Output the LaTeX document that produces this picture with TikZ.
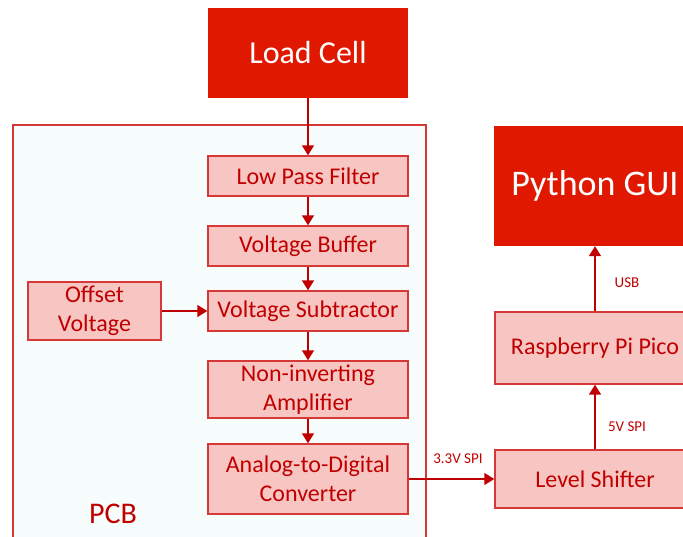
\documentclass[tikz,border=0pt]{standalone}
\usepackage{fontspec}
\setmainfont{Carlito}
\usepackage{xcolor}
\usepackage{tikz}
\usetikzlibrary{arrows.meta,positioning}

\definecolor{cellred}{RGB}{224,24,0}
\definecolor{blockfill}{RGB}{248,198,194}
\definecolor{linered}{RGB}{192,0,0}
\definecolor{boxline}{RGB}{214,56,56}
\definecolor{pcbfill}{RGB}{247,253,253}

\begin{document}
\begin{tikzpicture}[x=1pt, y=-1pt,
    top/.style={
        rectangle, fill=cellred, draw=none,
        text=white, inner sep=0pt,
        font=\fontsize{32}{38}\selectfont
    },
    block/.style={
        rectangle, draw=boxline, line width=1.4pt,
        fill=blockfill, text=linered, align=center,
        inner sep=0pt, minimum width=200pt,
        font=\fontsize{24}{29}\selectfont
    },
    board/.style={
        rectangle, draw=boxline, line width=1.2pt,
        fill=pcbfill, inner sep=0pt
    },
    arrow/.style={-{Triangle[length=10pt, width=12pt]}, line width=1.5pt, linered},
    tag/.style={text=linered, inner sep=0pt, font=\fontsize{15}{18}\selectfont}
]
\useasboundingbox (0,0) rectangle (683,537);
\clip (0,0) rectangle (683,537);

% PCB frame
\node[board, minimum width=413pt, minimum height=440pt] (pcb) at (219.5,345) {};
\node[text=linered, font=\fontsize{30}{36}\selectfont] (pcblabel) at (113,514) {PCB};

% Top: sensor
\node[top, minimum width=200pt, minimum height=90pt] (cell) at (308,53) {Load Cell};

% Signal chain on the board
\node[block, minimum height=40pt] (lpf) at (308,176) {Low Pass Filter};
\node[block, minimum height=40pt] (buffer) at (308,246) {Voltage Buffer};
\node[block, minimum height=40pt] (sub) at (308,311) {Voltage Subtractor};
\node[block, minimum width=133pt, minimum height=58pt] (offset) at (94.5,311) {Offset\\Voltage};
\node[block, minimum height=57pt] (amp) at (308,389.5) {Non-inverting\\Amplifier};
\node[block, minimum height=70pt] (adc) at (308,479) {Analog-to-Digital\\Converter};

% Right column
\node[block, minimum height=58pt] (shifter) at (595,479) {Level Shifter};
\node[block, minimum height=72pt] (pico) at (595,348) {Raspberry Pi Pico};
\node[top, minimum width=202pt, minimum height=120pt, font=\fontsize{36}{42}\selectfont] (gui) at (595,186) {Python GUI};

% Arrows
\draw[arrow] (cell) -- (lpf);
\draw[arrow] (lpf) -- (buffer);
\draw[arrow] (buffer) -- (sub);
\draw[arrow] (offset) -- (sub);
\draw[arrow] (sub) -- (amp);
\draw[arrow] (amp) -- (adc);
\draw[arrow] (adc) -- (shifter);
\draw[arrow] (shifter) -- (pico);
\draw[arrow] (pico) -- (gui);

% Link labels
\node[tag] (spi3) at (458,459) {3.3V SPI};
\node[tag] (spi5) at (627,427) {5V SPI};
\node[tag] (usb) at (627,283) {USB};
\end{tikzpicture}
\end{document}
